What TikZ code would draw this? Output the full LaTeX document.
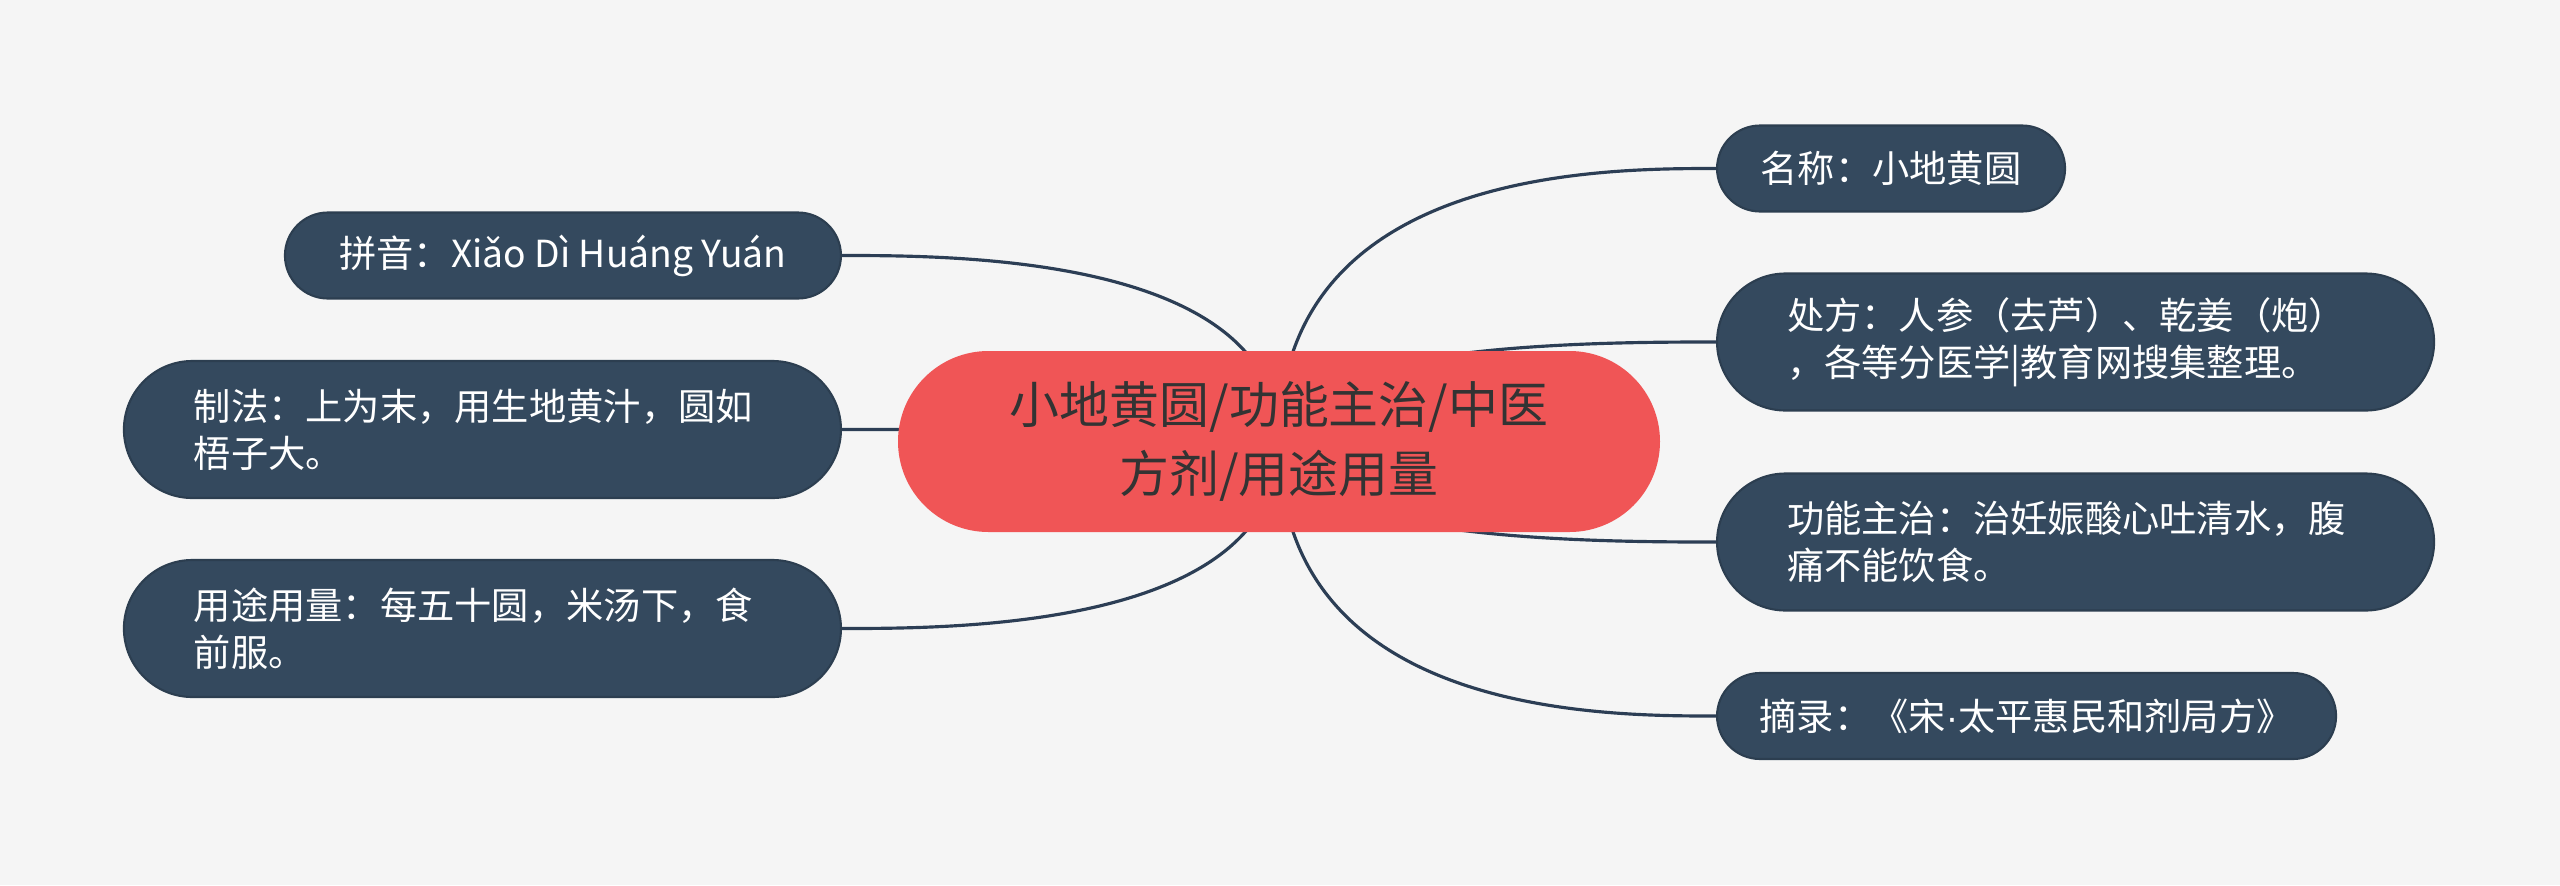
\documentclass[tikz,border=0pt]{standalone}
\usepackage{fontspec}
\setmainfont{Noto Sans CJK SC}
\newfontfamily\dotfont{Liberation Sans}
\usepackage{xcolor}
\usepackage{tikz}
\usetikzlibrary{calc}

\definecolor{bgcol}{HTML}{F5F5F5}
\definecolor{rootred}{HTML}{F05556}
\definecolor{roottext}{HTML}{333333}
\definecolor{leafblue}{HTML}{34495E}
\definecolor{linkblue}{HTML}{2C3E55}

\pgfdeclarelayer{bg}
\pgfdeclarelayer{links}
\pgfsetlayers{bg,links,main}

\tikzset{
  root/.style={fill=rootred, text=roottext, rounded corners=0.905cm,
    minimum width=7.62cm, minimum height=1.81cm, align=center,
    font=\fontsize{14.2}{19.5}\selectfont},
  leaf/.style={fill=leafblue, draw=leafblue!85!black, line width=0.6pt, text=white,
    inner xsep=0pt, font=\fontsize{10.6}{13.4}\selectfont},
  leafshort/.style={leaf, rounded corners=0.43cm, minimum height=0.86cm, minimum width=#1},
  leaflong/.style={leaf, rounded corners=0.685cm, minimum height=1.37cm,
    minimum width=7.17cm, text width=5.77cm, align=left},
  link/.style={draw=linkblue, line width=0.9pt,
    to path={.. controls (\tikztostart |- \tikztotarget)
      and ($(\tikztostart |- \tikztotarget)!0.74!(\tikztotarget)$) .. (\tikztotarget)}}
}

\begin{document}
\begin{tikzpicture}

\begin{pgfonlayer}{bg}
\fill[bgcol] (0,0) rectangle (25.6,8.85);
\end{pgfonlayer}
\useasboundingbox (0,0) rectangle (25.6,8.85);

% centre
\node[root] (root) at (12.79,4.435) {小地黄圆/功能主治/中医\\方剂/用途用量};

% right side
\node[leafshort=3.48cm, anchor=west] (name)  at (17.16,7.165) {名称：小地黄圆};
\node[leaflong, anchor=west]         (recipe) at (17.16,5.43) {处方：人参（去芦）、乾姜（炮）\\，各等分医学|教育网搜集整理。};
\node[leaflong, anchor=west]         (usage) at (17.16,3.43) {功能主治：治妊娠酸心吐清水，腹\\痛不能饮食。};
\node[leafshort=6.19cm, anchor=west] (source) at (17.16,1.69) {摘录：《宋{\dotfont ·}太平惠民和剂局方》};

% left side
\node[leafshort=5.56cm, anchor=east] (pinyin) at (8.42,6.295) {拼音：Xiǎo Dì Huáng Yuán};
\node[leaflong, anchor=east]         (method) at (8.42,4.555) {制法：上为末，用生地黄汁，圆如\\梧子大。};
\node[leaflong, anchor=east]         (dose)   at (8.42,2.565) {用途用量：每五十圆，米汤下，食\\前服。};

\begin{pgfonlayer}{links}
\foreach \leafname in {name,recipe,usage,source} {
  \draw[link] (root.center) to (\leafname.west);
}
\foreach \leafname in {pinyin,method,dose} {
  \draw[link] (root.center) to (\leafname.east);
}
\end{pgfonlayer}

\end{tikzpicture}
\end{document}
